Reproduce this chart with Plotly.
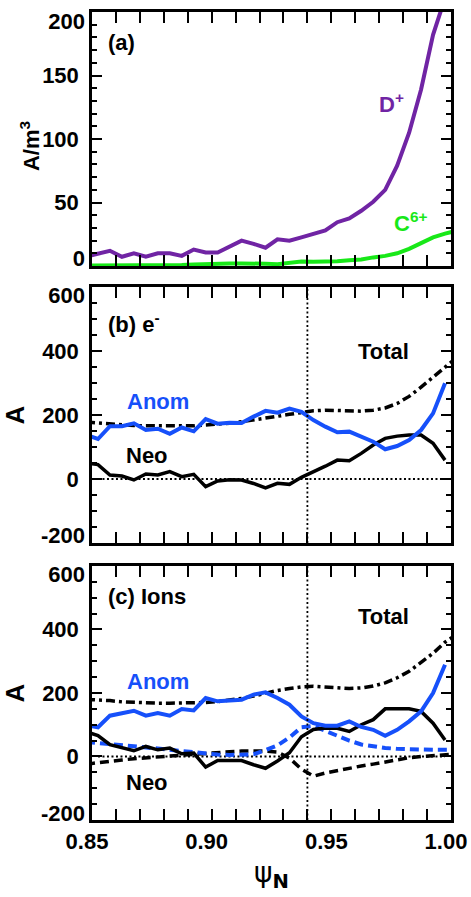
import plotly.graph_objects as go

# Normalised poloidal flux grid
psi = [0.8475, 0.8525, 0.8575, 0.8625, 0.8675, 0.8725, 0.8775, 0.8825,
       0.8875, 0.8925, 0.8975, 0.9025, 0.9075, 0.9125, 0.9175, 0.9225,
       0.9275, 0.9325, 0.9375, 0.9425, 0.9475, 0.9525, 0.9575, 0.9625,
       0.9675, 0.9725, 0.9775, 0.9825, 0.9875, 0.9925, 0.9975, 1.0025]

# (a) source densities, A/m^3
d_plus = [7.5, 10, 12, 7.3, 10, 7.3, 10, 10, 8, 13, 10.7, 10.7, 15, 20, 17.5, 14.4,
          21, 20, 22.6, 25.7, 28, 34.5, 37.5, 43.5, 50.6, 60, 79, 105, 139, 182, 208, 240]
c_6plus = [0.3, 0.3, 0.3, 0.3, 0.3, 0.3, 0.3, 0.3, 0.8, 1.2, 1.6, 1.8, 2, 2, 2.2, 1.8,
           1.5, 2.5, 3.5, 3.3, 3.4, 3.8, 4.5, 5.2, 6.8, 8, 10, 13.5, 18, 22.5, 25.5, 28]

# (b) electron currents, A
e_anom = [138, 125, 165, 165, 174, 153, 157, 141, 161, 149, 187, 173, 176, 175, 195, 213,
          207, 220, 210, 184, 163.5, 146, 148, 132, 116.6, 93, 103, 122, 153, 205, 299, None]
e_neo = [50, 45, 12.5, 9.4, -3, 15.6, 12.5, 23, 7.3, 14.6, -24, -6.3, -2, -3, -14, -28,
         -13.5, -16.7, 5.2, 22, 40, 59, 57, 80, 106, 127, 134, 137.5, 137.5, 111.5, 59, None]
e_total = [178, 175, 171, 169, 167, 166, 166, 165, 165, 166, 169, 171, 174, 179, 184, 190,
           196, 202, 208, 213, 215, 214, 212, 212, 215, 222, 236, 258, 287, 318, 352, 380]

# (c) ion currents, A
i_anom = [98, 92, 128.5, 137, 144, 128.5, 137, 128.5, 149.6, 145, 184, 173.7, 176, 179, 195, 202,
          184, 163, 126, 105, 97, 97, 110.5, 93, 84, 65, 84, 110.5, 142, 200, 289, None]
i_neo = [78, 66, 37, 26.5, 18, 31.6, 21, 26.5, 8.5, 10.7, -33.5, -12.6, -12.6, -12.6, -26, -37,
         -14, 12, 62, 85, 90, 89, 79, 100, 116, 150, 150, 150, 142, 105, 52, None]
i_total = [180, 179, 176, 172, 170, 168, 168, 168, 168, 169, 170, 173, 177, 183, 190, 199,
           208, 214, 219, 221, 219, 216, 214, 216, 222, 232, 248, 268, 295, 325, 360, 385]
i_anom_dplus = [46, 43, 38, 34, 31, 28, 25, 21, 17, 13, 9, 6, 5, 5, 7, 20,
                35, 60, 92, 96, 80, 65, 50, 38, 32, 27, 24, 22, 21, 21, 21, 21]
i_neo_dplus = [-24, -19, -15, -11, -7, -4, -1, 2, 5, 8, 11, 13, 15, 17, 18, 17,
               14, -5, -40, -62, -52, -44, -37, -30, -24, -17, -10, -4, 0, 3, 6, 8]

# axis ticks
ticks_a = [0, 50, 100, 150, 200]
ticks_bc = [-200, 0, 200, 400, 600]
ticktext_bc = ["-200", "0", "200", "400", "600"]
x_ticks = [0.85, 0.90, 0.95, 1.00]

psi_sep = 0.94
zero_psi = psi[1:31]
zero_val = [0.0 for _ in zero_psi]

PURPLE = "rgb(112,36,164)"
GREEN = "rgb(24,232,24)"
BLUE = "rgb(22,80,250)"
BLACK = "black"
CLEAR = "rgba(0,0,0,0)"
FONT = "Liberation Sans, Arial, sans-serif"
FS = 22

fig = go.Figure()


def add(x, y, xa, ya, color, width, dash="solid"):
    fig.add_trace(go.Scatter(x=x, y=y, mode="lines", xaxis=xa, yaxis=ya,
                             line=dict(color=color, width=width, dash=dash),
                             showlegend=False, hoverinfo="skip", connectgaps=False))


# (a)
add(psi, d_plus, "x", "y", PURPLE, 4)
add(psi, c_6plus, "x", "y", GREEN, 4)

# (b)
add(zero_psi, zero_val, "x2", "y2", BLACK, 1.8, "2px,2.5px")
add(psi, e_total, "x2", "y2", BLACK, 3.5, "9px,4px,3px,4px")
add(psi, e_neo, "x2", "y2", BLACK, 3.5)
add(psi, e_anom, "x2", "y2", BLUE, 4)

# (c)
add(zero_psi, zero_val, "x3", "y3", BLACK, 1.8, "2px,2.5px")
add(psi, i_neo_dplus, "x3", "y3", BLACK, 3.5, "9px,5px")
add(psi, i_anom_dplus, "x3", "y3", BLUE, 4, "9px,5px")
add(psi, i_total, "x3", "y3", BLACK, 3.5, "9px,4px,3px,4px")
add(psi, i_neo, "x3", "y3", BLACK, 3.5)
add(psi, i_anom, "x3", "y3", BLUE, 4)

common_x = dict(range=[0.85, 1.0], tickvals=x_ticks, tickformat=".2f",
                ticks="inside", ticklen=11, tickwidth=2, tickcolor=BLACK,
                minor=dict(dtick=0.01, tick0=0.85, ticklen=5, tickwidth=2,
                           tickcolor=BLACK, ticks="inside"),
                showline=True, linewidth=2.5, linecolor=BLACK, mirror="allticks",
                showgrid=False, zeroline=False, automargin=False)
common_y = dict(ticks="inside", ticklen=10, tickwidth=2, tickcolor=BLACK,
                showline=True, linewidth=2.5, linecolor=BLACK, mirror="allticks",
                showgrid=False, zeroline=False, ticklabelstandoff=6, automargin=False)


def end_label_axis(base, anchor, rng, val, text, shift):
    """Overlay axis that carries a single end label nudged inside the frame."""
    return dict(overlaying=base, anchor=anchor, side="left", range=rng,
                tickvals=[val], ticktext=[text], ticks="inside", ticklen=10,
                tickwidth=2, tickcolor=CLEAR, showline=False, showgrid=False,
                zeroline=False, ticklabelstandoff=6, ticklabelshift=shift,
                automargin=False)


fig.update_layout(
    width=471, height=897,
    margin=dict(l=92, r=20, t=12, b=77),
    paper_bgcolor="white", plot_bgcolor="white",
    font=dict(family=FONT, size=FS, color=BLACK, weight="bold"),
    xaxis=dict(common_x, domain=[0, 1], anchor="y", showticklabels=False),
    xaxis2=dict(common_x, domain=[0, 1], anchor="y2", showticklabels=False),
    xaxis3=dict(common_x, domain=[0, 1], anchor="y3", ticklabelshift=-5,
                title=dict(text="<span style='font-weight:normal'>ψ</span><sub>N</sub>",
                           font=dict(size=28, family="DejaVu Sans"), standoff=10)),
    yaxis=dict(common_y, domain=[0.6856, 1.0], anchor="x", range=[0, 200],
               tickvals=ticks_a[1:4],
               minor=dict(dtick=10, ticklen=5, tickwidth=2, tickcolor=BLACK, ticks="inside")),
    yaxis2=dict(common_y, domain=[0.3428, 0.6597], anchor="x2", range=[-200, 600],
                tickvals=ticks_bc[1:4], ticktext=ticktext_bc[1:4],
                minor=dict(dtick=50, ticklen=5, tickwidth=2, tickcolor=BLACK, ticks="inside"),
                title=dict(text="A")),
    yaxis3=dict(common_y, domain=[0.0, 0.3144], anchor="x3", range=[-200, 600],
                tickvals=ticks_bc[1:4], ticktext=ticktext_bc[1:4],
                minor=dict(dtick=50, ticklen=5, tickwidth=2, tickcolor=BLACK, ticks="inside"),
                title=dict(text="A")),
    yaxis4=end_label_axis("y", "x", [0, 200], ticks_a[-1], str(ticks_a[-1]), 9),
    yaxis5=end_label_axis("y", "x", [0, 200], ticks_a[0], str(ticks_a[0]), -8),
    yaxis6=end_label_axis("y2", "x2", [-200, 600], ticks_bc[-1], ticktext_bc[-1], 8),
    yaxis7=end_label_axis("y2", "x2", [-200, 600], ticks_bc[0], ticktext_bc[0], -8),
    yaxis8=end_label_axis("y3", "x3", [-200, 600], ticks_bc[-1], ticktext_bc[-1], 8),
    yaxis9=end_label_axis("y3", "x3", [-200, 600], ticks_bc[0], ticktext_bc[0], -7),
)

# hidden traces so every overlay axis is instantiated
for xa, ya in (("x", "y4"), ("x", "y5"), ("x2", "y6"), ("x2", "y7"), ("x3", "y8"), ("x3", "y9")):
    fig.add_trace(go.Scatter(x=[psi[1]], y=[0], xaxis=xa, yaxis=ya, mode="markers",
                             marker=dict(size=1, color=CLEAR), showlegend=False,
                             hoverinfo="skip"))

# separatrix marker in (b) and (c)
for xr, yr in (("x2", "y2 domain"), ("x3", "y3 domain")):
    fig.add_shape(type="line", xref=xr, yref=yr, x0=psi_sep, x1=psi_sep, y0=0, y1=1,
                  line=dict(color=BLACK, width=1.8, dash="2px,2.5px"))

# y label of panel (a), set closer to its tick labels
fig.add_annotation(xref="paper", yref="paper", x=-0.173, y=0.834, text="A/m<sup>3</sup>",
                   textangle=-90, showarrow=False, xanchor="center", yanchor="middle",
                   font=dict(size=FS))

labels = [
    ("x", "y", 0.8558, 175.6, "(a)", BLACK, "left"),
    ("x", "y", 0.9753, 128, "D<sup>+</sup>", PURPLE, "center"),
    ("x", "y", 0.9829, 34.6, "C<sup>6+</sup>", GREEN, "center"),
    ("x2", "y2", 0.8558, 487.5, "(b) e<sup>-</sup>", BLACK, "left"),
    ("x2", "y2", 0.9716, 397, "Total", BLACK, "center"),
    ("x2", "y2", 0.8776, 240.6, "Anom", BLUE, "center"),
    ("x2", "y2", 0.8730, 75, "Neo", BLACK, "center"),
    ("x3", "y3", 0.8558, 504, "(c) Ions", BLACK, "left"),
    ("x3", "y3", 0.9716, 441, "Total", BLACK, "center"),
    ("x3", "y3", 0.8776, 236, "Anom", BLUE, "center"),
    ("x3", "y3", 0.8730, -83, "Neo", BLACK, "center"),
]
for xr, yr, x, y, text, color, anchor in labels:
    fig.add_annotation(xref=xr, yref=yr, x=x, y=y, text=text, showarrow=False,
                       xanchor=anchor, yanchor="middle", font=dict(color=color, size=FS))

fig.write_html("out.html")
